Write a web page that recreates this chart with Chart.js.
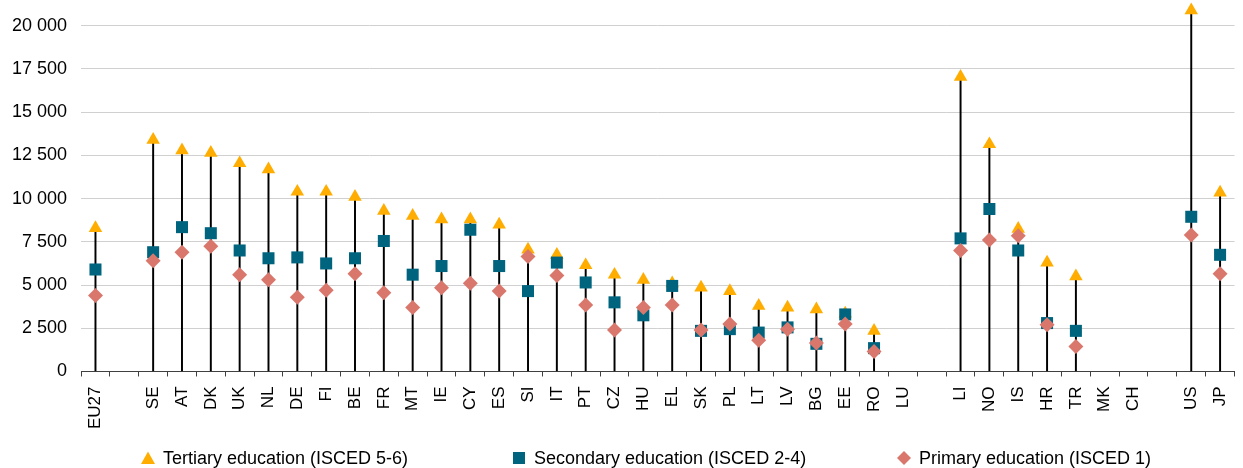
<!DOCTYPE html>
<html>
<head>
<meta charset="utf-8">
<script src="https://cdn.jsdelivr.net/npm/chart.js@4.4.1/dist/chart.umd.min.js"></script>
<style>
  html, body { margin: 0; padding: 0; background: #fff; overflow: hidden; }
  #wrap { position: relative; width: 1243px; height: 468px; overflow: hidden; }
  #legend { position: absolute; left: 0; top: 447px; width: 1243px; height: 22px;
    font-family: "Liberation Sans", Arial, sans-serif; font-size: 18px; color: #000; }
  .item { position: absolute; top: 0; white-space: nowrap; line-height: 22px; }
  .item svg { position: absolute; left: 0; top: 4px; }
  .item span { position: absolute; left: 22px; top: 0; }
</style>
</head>
<body>
<div id="wrap">
  <canvas id="c" width="1243" height="468"></canvas>
  <div id="legend"></div>
</div>
<script>
const categories = ['EU27', '', 'SE', 'AT', 'DK', 'UK', 'NL', 'DE', 'FI', 'BE', 'FR', 'MT', 'IE', 'CY', 'ES', 'SI', 'IT', 'PT', 'CZ', 'HU', 'EL', 'SK', 'PL', 'LT', 'LV', 'BG', 'EE', 'RO', 'LU', '', 'LI', 'NO', 'IS', 'HR', 'TR', 'MK', 'CH', '', 'US', 'JP'];

const tertiary = [8300, null, 13400, 12800, 12650, 12050, 11700, 10400, 10400, 10100, 9300, 9000, 8800, 8800, 8500, 7050, 6750, 6150, 5600, 5300, 5100, 4850, 4650, 3800, 3700, 3600, 3350, 2350, null, null, 17050, 13150, 8250, 6300, 5500, null, null, null, 20900, 10350];

const secondary = [5900, null, 6900, 8350, 8000, 7000, 6550, 6600, 6250, 6550, 7550, 5600, 6100, 8200, 6100, 4650, 6300, 5150, 4000, 3250, 4950, 2350, 2450, 2250, 2550, 1600, 3300, 1350, null, null, 7700, 9400, 7000, 2800, 2350, null, null, null, 8950, 6750];

const primary = [4400, null, 6400, 6900, 7250, 5600, 5300, 4300, 4700, 5650, 4550, 3700, 4850, 5100, 4650, 6650, 5550, 3850, 2400, 3700, 3850, 2400, 2750, 1800, 2450, 1650, 2750, 1150, null, null, 7000, 7600, 7850, 2700, 1450, null, null, null, 7900, 5650];

const seriesLabels = ['Tertiary education (ISCED 5-6)', 'Secondary education (ISCED 2-4)', 'Primary education (ISCED 1)'];
const yTicks = [0, 2500, 5000, 7500, 10000, 12500, 15000, 17500, 20000];

const colors = ['#FFAD00', '#00647F', '#DA776D'];
const styles = ['triangle', 'rect', 'rectRot'];
const radii = [7.8, 8.5, 7.5];

const stems = categories.map((_, i) => {
  const vals = [tertiary[i], secondary[i], primary[i]].filter(v => v !== null);
  return vals.length ? Math.max(...vals) : null;
});

function fmt(v) { return String(v).replace(/\B(?=(\d{3})+(?!\d))/g, ' '); }

const seriesData = [tertiary, secondary, primary];
const datasets = seriesData.map((d, k) => ({
  type: 'line',
  label: seriesLabels[k],
  data: d,
  showLine: false,
  pointStyle: styles[k],
  pointRadius: radii[k],
  pointHoverRadius: radii[k],
  pointBackgroundColor: colors[k],
  pointBorderWidth: 0,
  backgroundColor: colors[k],
  borderColor: colors[k],
  order: 3 - k,
  clip: false
}));
datasets.push({
  type: 'bar',
  label: 'stem',
  data: stems,
  backgroundColor: '#000',
  barThickness: 1.3,
  order: 10
});

const font = "'Liberation Sans', Arial, sans-serif";

new Chart(document.getElementById('c'), {
  type: 'bar',
  data: { labels: categories, datasets },
  options: {
    responsive: false,
    animation: false,
    devicePixelRatio: 1,
    layout: { padding: { top: 7, right: 0.5, left: -2, bottom: 29 } },
    plugins: { legend: { display: false }, tooltip: { enabled: false } },
    scales: {
      x: {
        offset: true,
        grid: { display: true, drawOnChartArea: false, drawTicks: true, tickLength: 5, offset: true, color: '#404040' },
        border: { display: true, color: '#404040', width: 1 },
        ticks: { autoSkip: false, maxRotation: 90, minRotation: 90, padding: 10,
          font: { family: font, size: 17, lineHeight: 0.7 }, color: '#000' }
      },
      y: {
        min: 0, max: 21000,
        afterFit: (s) => { s.paddingTop = 0; },
        afterBuildTicks: (axis) => { axis.ticks = yTicks.map(v => ({ value: v })); },
        grid: { color: '#D0D0D0', drawTicks: false, lineWidth: 1 },
        border: { display: false },
        ticks: { padding: 14, callback: (v) => fmt(v), font: { family: font, size: 18 }, color: '#000' }
      }
    }
  }
});

// HTML legend
const legendX = [141, 512, 897];
const lg = document.getElementById('legend');
seriesLabels.forEach((lab, k) => {
  const div = document.createElement('div');
  div.className = 'item';
  div.style.left = legendX[k] + 'px';
  let shape;
  if (k === 0) shape = '<polygon points="7,0.5 14,13 0,13" fill="' + colors[0] + '"/>';
  else if (k === 1) shape = '<rect x="1" y="1" width="12" height="12" fill="' + colors[1] + '"/>';
  else shape = '<polygon points="7,0 14,7 7,14 0,7" fill="' + colors[2] + '"/>';
  div.innerHTML = '<svg width="14" height="14">' + shape + '</svg><span>' + lab + '</span>';
  lg.appendChild(div);
});
</script>
</body>
</html>
